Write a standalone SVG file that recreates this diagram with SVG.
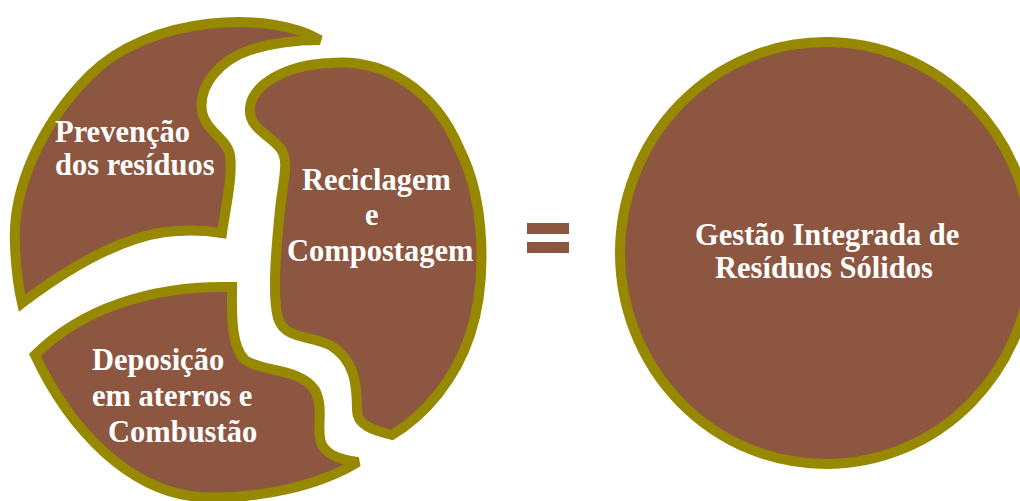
<svg xmlns="http://www.w3.org/2000/svg" width="1020" height="501" viewBox="0 0 1020 501">
  <style>
    .piece { fill: #8C5640; stroke: #968900; stroke-width: 10; stroke-linejoin: miter; stroke-miterlimit: 2.5; }
    .lbl { font-family: "Liberation Serif", "Times New Roman", serif; font-weight: bold; font-size: 30.5px; fill: #FFFFFF; }
    .eq { fill: #8C5640; }
  </style>
  <rect x="0" y="0" width="1020" height="501" fill="#FFFFFF"/>
  <g id="prevencao">
    <path class="piece" d="M 320,40 C 270,10 150,15 90,75 C 40,125 12,190 15,245 C 16,270 19,290 22,303 C 55,278 110,240 165,232 C 190,229 210,231 222,233 C 226,205 233,175 230,155 C 228,140 205,130 202,112 C 198,85 220,60 250,50 C 275,42 300,40 320,40 Z"/>
    <text class="lbl" x="55" y="142">Prevenção</text>
    <text class="lbl" x="55" y="175">dos resíduos</text>
  </g>
  <g id="reciclagem">
    <path class="piece" d="M 392,435 C 372,430 357,425 357,410 C 357,385 355,360 330,345 C 310,335 285,340 278,318 C 272,295 276,250 280,210 C 283,180 290,160 280,148 C 270,135 248,128 250,108 C 252,85 285,65 330,63 C 385,58 435,90 460,150 C 485,200 488,280 470,335 C 455,380 425,415 392,435 Z"/>
    <text class="lbl" x="302" y="190">Reciclagem</text>
    <text class="lbl" x="365" y="225">e</text>
    <text class="lbl" x="287" y="261">Compostagem</text>
  </g>
  <g id="deposicao">
    <path class="piece" d="M 35,355 C 80,310 150,285 232,287 C 232,310 230,345 245,360 C 262,372 300,368 315,390 C 325,410 315,430 322,445 C 330,458 345,460 358,462 C 320,485 260,500 200,497 C 130,492 70,430 35,355 Z"/>
    <text class="lbl" x="92" y="370">Deposição</text>
    <text class="lbl" x="92" y="406">em aterros e</text>
    <text class="lbl" x="108" y="442">Combustão</text>
  </g>
  <g id="igual">
    <rect class="eq" x="527" y="223" width="42" height="11"/>
    <rect class="eq" x="527" y="242" width="42" height="11"/>
  </g>
  <g id="gestao">
    <ellipse class="piece" cx="826" cy="253" rx="206" ry="211"/>
    <text class="lbl" x="695" y="245">Gestão Integrada de</text>
    <text class="lbl" x="715" y="278">Resíduos Sólidos</text>
  </g>
  <g id="connectors"></g>
</svg>
